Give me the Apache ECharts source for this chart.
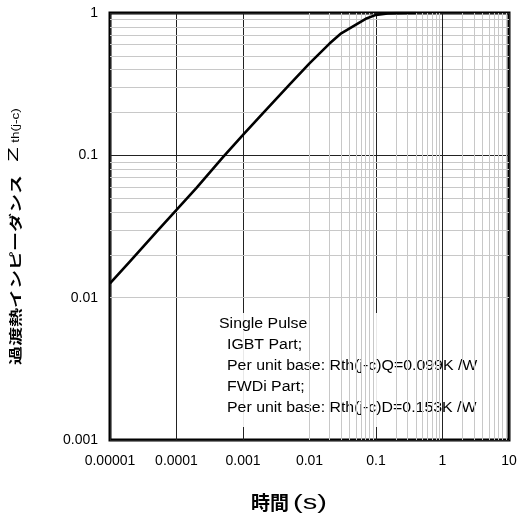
<!DOCTYPE html>
<html>
<head>
<meta charset="utf-8">
<script src="https://cdn.jsdelivr.net/npm/echarts@6/dist/echarts.min.js"></script>
<style>
  html, body { margin: 0; padding: 0; background: #fff; }
  #chart { width: 520px; height: 518px; }
</style>
</head>
<body>
<div id="chart"></div>
<script>
// Transient thermal impedance (per unit), single pulse
const timeS = [1e-5, 2e-5, 5e-5, 1e-4, 2e-4, 5e-4, 1e-3, 2e-3, 5e-3, 1e-2,
               2e-2, 3e-2, 5e-2, 7e-2, 0.1, 0.15, 0.2, 0.3, 0.4];
const zth   = [0.0126, 0.0180, 0.0290, 0.0413, 0.059, 0.097, 0.139, 0.198, 0.314, 0.443,
               0.61, 0.72, 0.83, 0.91, 0.97, 0.992, 0.998, 1.0, 1.0];

const xTickLabels = ['0.00001', '0.0001', '0.001', '0.01', '0.1', '1', '10'];
const yTickLabels = ['0.001', '0.01', '0.1', '1'];

const xTitleMain = '時間';
const xTitleUnit = '(s)';
const yTitleMain = '過渡熱インピーダンス';
const yTitleSymbol = 'Z';
const yTitleSub = 'th(j-c)';

const noteLines = [
  'Single Pulse',
  'IGBT Part;',
  'Per unit base: Rth(j-c)Q=0.099K /W',
  'FWDi Part;',
  'Per unit base: Rth(j-c)D=0.153K /W'
];

// decade ranges of both axes
const xMinExp = -5, xMaxExp = 1;
const yMinExp = -3, yMaxExp = 0;

// 2..9 multiples inside each decade, for the light minor grid
function minorValues(lo, hi) {
  const out = [];
  for (let e = lo; e < hi; e++) {
    for (let m = 2; m <= 9; m++) out.push(m * Math.pow(10, e));
  }
  return out;
}

const minorLines = []
  .concat(minorValues(xMinExp, xMaxExp).map(v => ({ xAxis: v })))
  .concat(minorValues(yMinExp, yMaxExp).map(v => ({ yAxis: v })));

const chart = echarts.init(document.getElementById('chart'), null, { renderer: 'canvas' });

const latin = 'Liberation Sans, Arial, sans-serif';
const cjk = 'Noto Sans CJK JP, sans-serif';
const labelFont = { color: '#000', fontSize: 14, fontFamily: latin };

const noteX = 219, noteIndent = 8, noteTop = 324, noteStep = 21;

function label(text, x, y, extra, styleExtra) {
  return Object.assign({
    type: 'text',
    z: 5,
    x: x,
    y: y,
    silent: true,
    style: Object.assign({
      text: text,
      fill: '#000',
      align: 'center',
      verticalAlign: 'middle'
    }, styleExtra)
  }, extra);
}

const graphics = [
  {
    type: 'rect',
    z: 4,
    shape: { x: 217, y: 313, width: 273, height: 114 },
    style: { fill: 'rgba(255,255,255,0.9)' },
    silent: true
  }
];
noteLines.forEach((t, i) => {
  graphics.push(label(t, noteX + (i === 0 ? 0 : noteIndent), noteTop + i * noteStep,
    { scaleX: 1.135 },
    { fontSize: 14, fontFamily: latin, align: 'left' }));
});

// x-axis title
graphics.push(label(xTitleMain, 270, 503, {},
  { fontSize: 19, fontWeight: 'bold', fontFamily: cjk }));
graphics.push(label(xTitleUnit, 310, 503, { scaleX: 1.45 },
  { fontSize: 20, fontFamily: latin }));

// y-axis title, rotated to read bottom-to-top and stretched along the text
graphics.push(label(yTitleMain, 15, 270, { rotation: Math.PI / 2, scaleX: 1.46 },
  { fontSize: 13, fontWeight: 'bold', fontFamily: cjk }));
graphics.push(label(yTitleSymbol, 14.5, 154.5, { rotation: Math.PI / 2, scaleX: 1.7 },
  { fontSize: 14, fontFamily: latin }));
graphics.push(label(yTitleSub, 16, 125.5, { rotation: Math.PI / 2, scaleX: 1.35 },
  { fontSize: 10, fontFamily: latin }));

chart.setOption({
  animation: false,
  backgroundColor: '#fff',
  grid: {
    left: 110, right: 11, top: 13, bottom: 78,
    show: true,
    borderColor: '#000',
    borderWidth: 3,
    backgroundColor: 'transparent'
  },
  xAxis: {
    type: 'log',
    logBase: 10,
    min: Math.pow(10, xMinExp),
    max: Math.pow(10, xMaxExp),
    splitNumber: xMaxExp - xMinExp,
    z: 3,
    axisLine: { show: false },
    axisTick: { show: false },
    axisLabel: Object.assign({
      margin: 14,
      formatter: v => xTickLabels[Math.round(Math.log10(v)) - xMinExp]
    }, labelFont),
    splitLine: { show: true, lineStyle: { color: '#222', width: 1 } }
  },
  yAxis: {
    type: 'log',
    logBase: 10,
    min: Math.pow(10, yMinExp),
    max: Math.pow(10, yMaxExp),
    splitNumber: yMaxExp - yMinExp,
    z: 3,
    axisLine: { show: false },
    axisTick: { show: false },
    axisLabel: Object.assign({
      margin: 12,
      formatter: v => yTickLabels[Math.round(Math.log10(v)) - yMinExp]
    }, labelFont),
    splitLine: { show: true, lineStyle: { color: '#222', width: 1 } }
  },
  graphic: graphics,
  series: [
    {
      name: 'minor grid',
      type: 'line',
      z: 1,
      data: [],
      silent: true,
      markLine: {
        silent: true,
        symbol: ['none', 'none'],
        label: { show: false },
        lineStyle: { color: '#c8c8c8', width: 1, type: 'solid' },
        emphasis: { disabled: true },
        data: minorLines
      }
    },
    {
      name: 'Zth(j-c)',
      type: 'line',
      z: 6,
      data: timeS.map((t, i) => [t, zth[i]]),
      showSymbol: false,
      smooth: false,
      lineStyle: { color: '#000', width: 2.6, join: 'round' },
      silent: true,
      // the 1 s gridline stays on top of the note panel
      markLine: {
        silent: true,
        symbol: ['none', 'none'],
        label: { show: false },
        lineStyle: { color: '#222', width: 1, type: 'solid' },
        emphasis: { disabled: true },
        data: [{ xAxis: 1 }]
      }
    }
  ]
});
</script>
</body>
</html>
